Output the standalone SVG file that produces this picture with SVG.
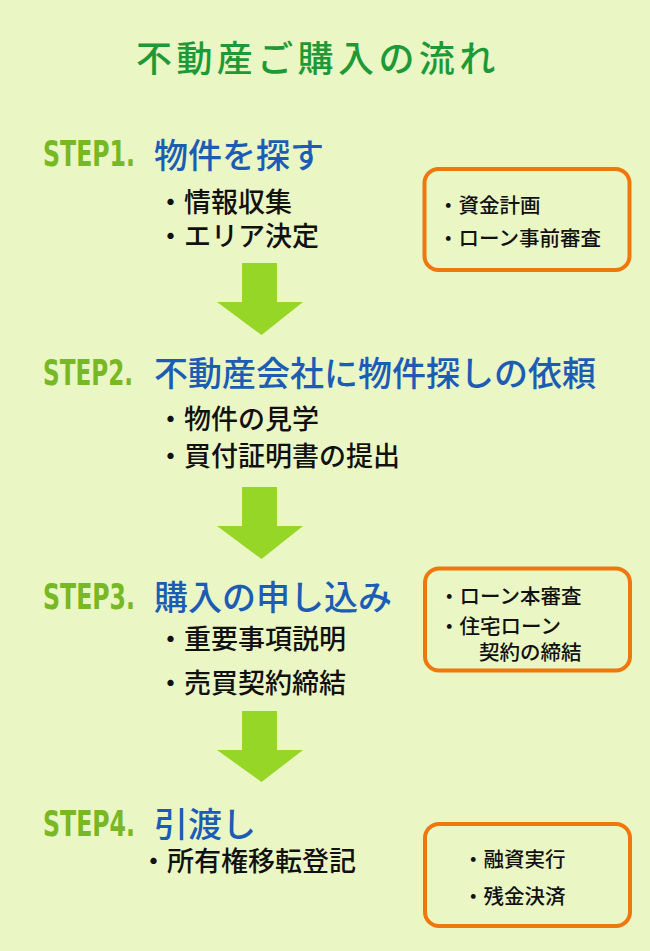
<svg xmlns="http://www.w3.org/2000/svg" width="650" height="951" viewBox="0 0 650 951">
<style>
.jp{font-family:"Noto Sans CJK JP","Noto Sans CJK SC",sans-serif;}
.title{fill:#1d9a36;font-size:36px;letter-spacing:4.4px;font-weight:500;}
.step{font-family:"DejaVu Sans Condensed","Liberation Sans",sans-serif;fill:#78b823;font-size:36px;font-weight:bold;}
.head{fill:#1b5cb5;font-size:34px;font-weight:500;}
.item{fill:#111;font-size:27px;font-weight:500;}
.note{fill:#111;font-size:20.5px;font-weight:500;}
.box{fill:none;stroke:#ef770b;stroke-width:4;}
.arrow{fill:#95d627;}
</style>
<rect width="650" height="951" fill="#eaf6c4"/>
<g id="title"><text class="jp title" x="136" y="72">不動産ご購入の流れ</text></g>

<g id="step1">
<text class="step" x="43" y="166" textLength="92" lengthAdjust="spacingAndGlyphs">STEP1.</text>
<text class="jp head" x="154" y="168">物件を探す</text>
<text class="jp item" x="157" y="212">・情報収集</text>
<text class="jp item" x="157" y="246">・エリア決定</text>
</g>
<g id="note1">
<rect class="box" x="424.5" y="169" width="205" height="101" rx="14"/>
<text class="jp note" x="438" y="213">・資金計画</text>
<text class="jp note" x="438" y="246">・ローン事前審査</text>
</g>

<g id="step2">
<text class="step" x="43" y="385" textLength="90" lengthAdjust="spacingAndGlyphs">STEP2.</text>
<text class="jp head" x="154" y="386">不動産会社に物件探しの依頼</text>
<text class="jp item" x="157" y="429">・物件の見学</text>
<text class="jp item" x="157" y="466">・買付証明書の提出</text>
</g>

<g id="step3">
<text class="step" x="43" y="609" textLength="92" lengthAdjust="spacingAndGlyphs">STEP3.</text>
<text class="jp head" x="154" y="610">購入の申し込み</text>
<text class="jp item" x="157" y="649">・重要事項説明</text>
<text class="jp item" x="157" y="693">・売買契約締結</text>
</g>
<g id="note3">
<rect class="box" x="425" y="568.5" width="205" height="102" rx="14"/>
<text class="jp note" x="439" y="604">・ローン本審査</text>
<text class="jp note" x="439" y="634">・住宅ローン</text>
<text class="jp note" x="479" y="660">契約の締結</text>
</g>

<g id="step4">
<text class="step" x="43" y="836" textLength="92" lengthAdjust="spacingAndGlyphs">STEP4.</text>
<text class="jp head" x="154" y="837">引渡し</text>
<text class="jp item" x="140" y="871">・所有権移転登記</text>
</g>
<g id="note4">
<rect class="box" x="425" y="824" width="205" height="102" rx="14"/>
<text class="jp note" x="463" y="867">・融資実行</text>
<text class="jp note" x="463" y="904">・残金決済</text>
</g>

<g id="connectors">
<polygon class="arrow" points="242,263 277,263 277,302 303,302 261.5,335 217,302 242,302"/>
<polygon class="arrow" points="242,487 277,487 277,526 303,526 261.5,559 217,526 242,526"/>
<polygon class="arrow" points="242,711 277,711 277,750 303,750 261.5,782 217,750 242,750"/>
</g>
</svg>
